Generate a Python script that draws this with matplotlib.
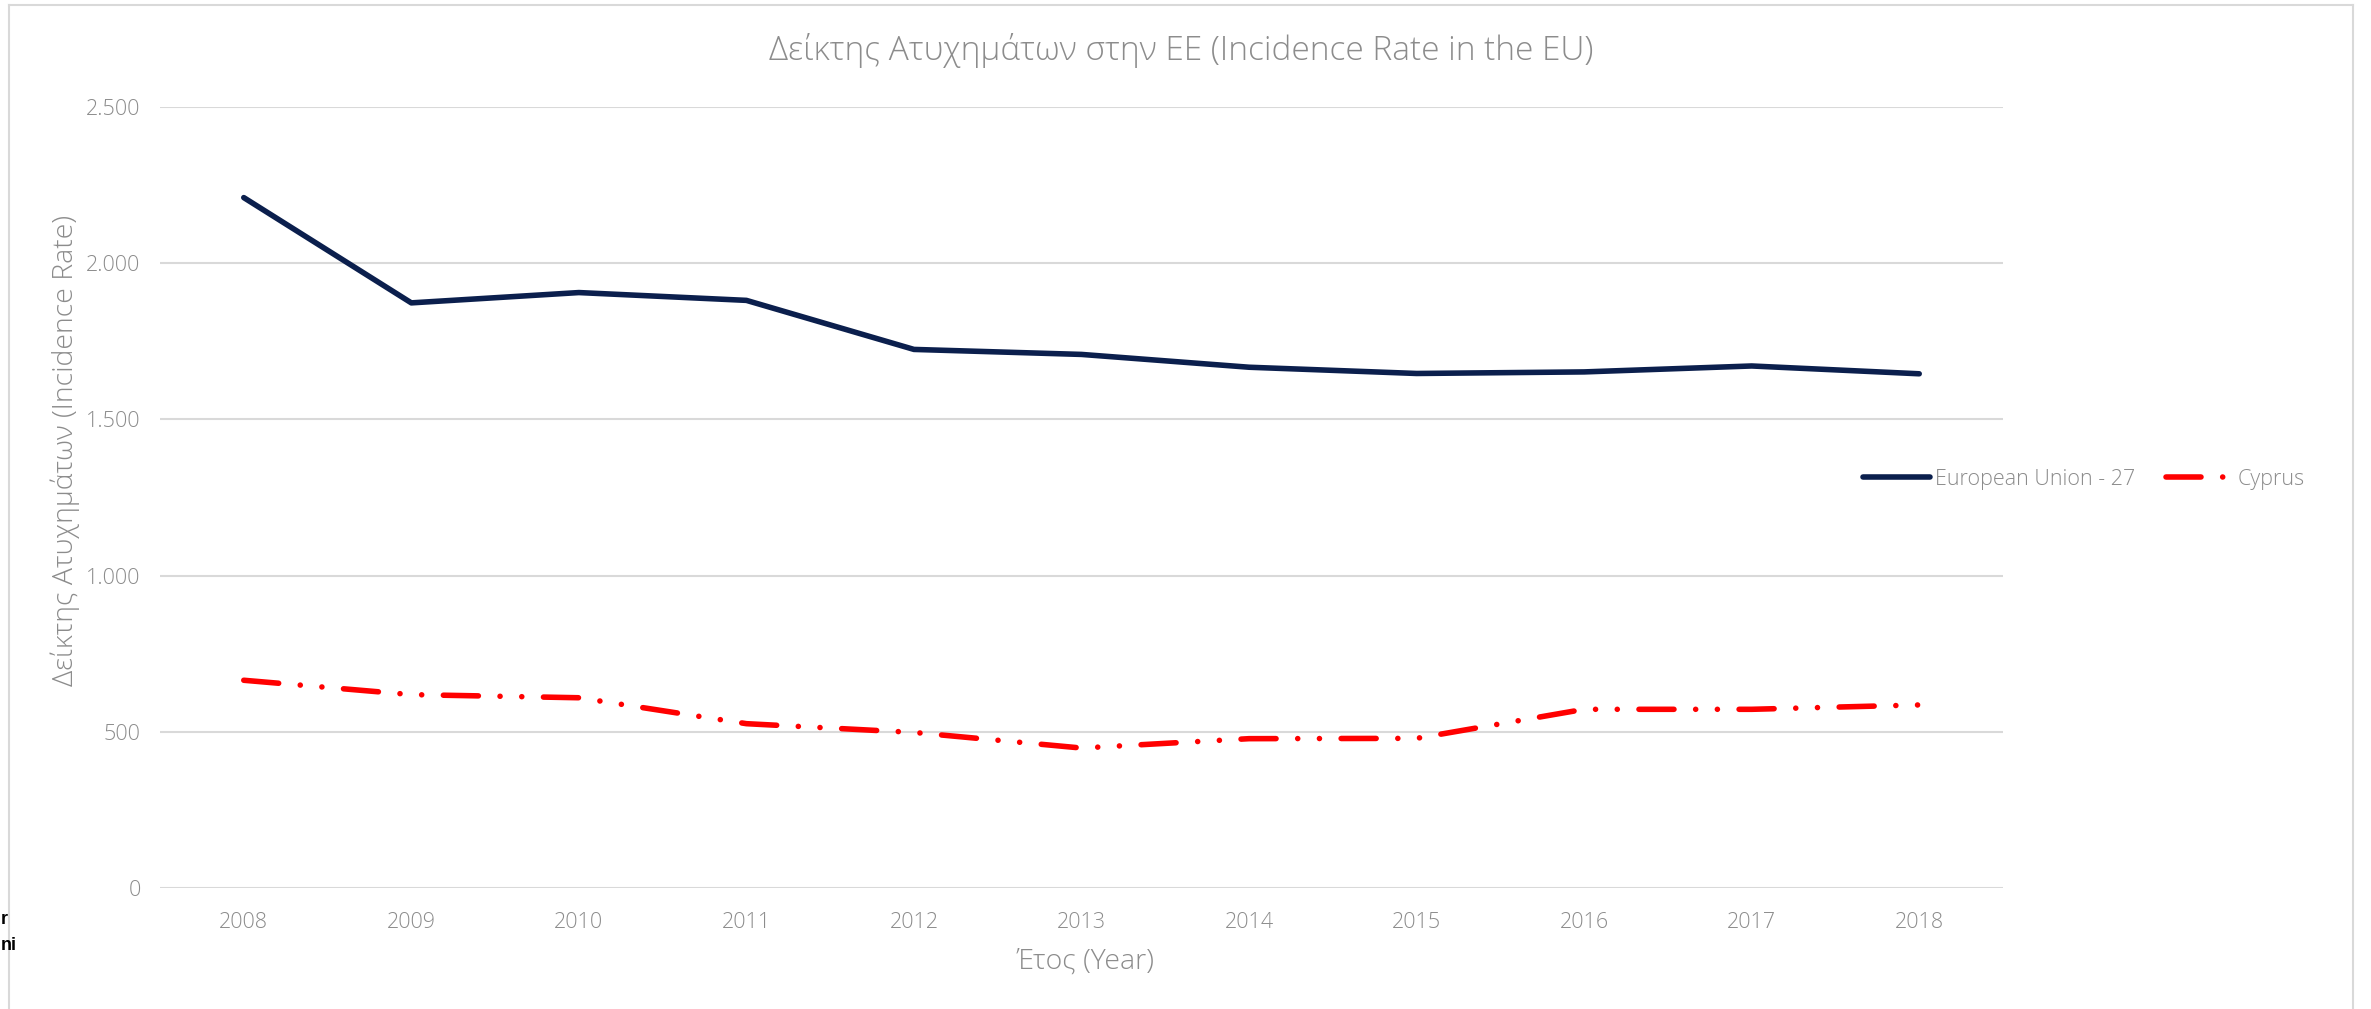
import matplotlib
matplotlib.use('Agg')
import matplotlib.pyplot as plt
from matplotlib.lines import Line2D

years = ['2008', '2009', '2010', '2011', '2012', '2013', '2014', '2015', '2016', '2017', '2018']
eu27 = [2210, 1873, 1906, 1881, 1724, 1708, 1667, 1647, 1652, 1671, 1646]
cyprus = [665, 619, 609, 526, 498, 448, 478, 479, 572, 572, 586]
yticks = [0, 500, 1000, 1500, 2000, 2500]
ytick_labels = ['0', '500', '1.000', '1.500', '2.000', '2.500']

W, H = 2371, 1009
GREY = '#8c8c8c'
GRID = '#d9d9d9'
plt.rcParams['font.family'] = ['Open Sans', 'DejaVu Sans']

fig = plt.figure(figsize=(W / 100, H / 100), dpi=100)
ax = fig.add_axes([160 / W, 1 - 888 / H, (2003 - 160) / W, (888 - 107) / H])

x = list(range(len(years)))
ax.plot(x, eu27, color='#0b1f4d', lw=4, solid_capstyle='round',
        solid_joinstyle='round', label='European Union - 27', zorder=3)
ax.plot(x, cyprus, color='#ff0000', lw=4, dash_capstyle='round',
        ls=(0, (6.3, 3.9, 0.01, 3.9, 0.01, 3.9)), label='Cyprus', zorder=3)

ax.set_xlim(-0.5, len(years) - 0.5)
ax.set_ylim(0, 2500)
ax.set_xticks(x)
ax.set_xticklabels(years)
ax.set_yticks(yticks)
ax.set_yticklabels(ytick_labels)
ax.tick_params(length=0, labelsize=15.5, labelcolor=GREY, pad=14, which='both')
ax.tick_params(axis='x', pad=17)
for lab in ax.get_xticklabels() + ax.get_yticklabels():
    lab.set_fontweight('light')
ax.grid(axis='y', color=GRID, lw=1.5)
ax.set_axisbelow(True)
for s in ax.spines.values():
    s.set_visible(False)

fig.text(1181 / W, 1 - 50 / H, 'Δείκτης Ατυχημάτων στην ΕΕ (Incidence Rate in the EU)',
         ha='center', va='center', fontsize=24, color=GREY, fontweight='light')
fig.text(65 / W, 1 - 450 / H, 'Δείκτης Ατυχημάτων (Incidence Rate)', rotation=90,
         ha='center', va='center', fontsize=20.5, color=GREY, fontweight='light')
fig.text(1086 / W, 1 - 962 / H, 'Έτος (Year)', ha='center', va='center',
         fontsize=20.5, color=GREY, fontweight='light')

leg = fig.legend(loc='center left', bbox_to_anchor=(1863 / W, 1 - 479 / H), ncol=2,
                 frameon=False, fontsize=15.5, handlelength=3.1, handletextpad=0.25,
                 columnspacing=1.4, borderpad=0, borderaxespad=0)
for t in leg.get_texts():
    t.set_color(GREY)
    t.set_fontweight('light')

# chart frame
fig.add_artist(Line2D([9 / W, 9 / W], [0, 1 - 5 / H], color=GRID, lw=1.5))
fig.add_artist(Line2D([9 / W, 2353 / W], [1 - 5 / H, 1 - 5 / H], color=GRID, lw=1.5))
fig.add_artist(Line2D([2353 / W, 2353 / W], [0, 1 - 5 / H], color=GRID, lw=1.5))

# fragments of a neighbouring element's text at the left edge
fig.text(1 / W, 1 - 920 / H, 'r', ha='left', va='center', fontsize=13,
         fontweight='bold', family='Liberation Sans', color='black')
fig.text(1 / W, 1 - 945 / H, 'ni', ha='left', va='center', fontsize=13,
         fontweight='bold', family='Liberation Sans', color='black')

fig.savefig('out.png', dpi=100, facecolor='white')
